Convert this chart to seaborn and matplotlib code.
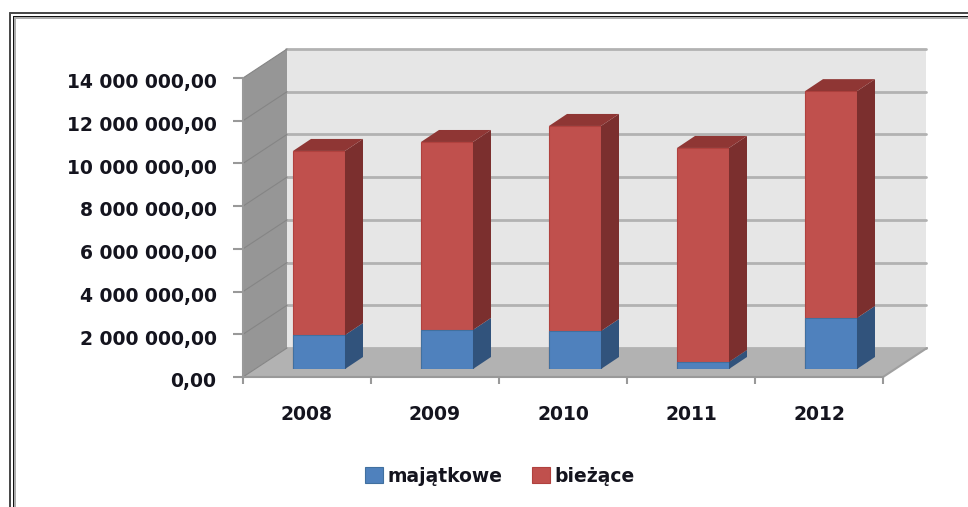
import numpy as np
import matplotlib
matplotlib.use("Agg")
import matplotlib.pyplot as plt
from matplotlib.lines import Line2D
from matplotlib.patches import Polygon
from matplotlib.transforms import ScaledTranslation
import seaborn as sns

# dane
lata = ["2008", "2009", "2010", "2011", "2012"]
majatkowe = [1590000, 1830000, 1780000, 330000, 2390000]
biezace = [8620000, 8800000, 9600000, 10020000, 10620000]
y_ticks = [0, 2000000, 4000000, 6000000, 8000000, 10000000, 12000000, 14000000]
y_labels = ["0,00", "2 000 000,00", "4 000 000,00", "6 000 000,00",
            "8 000 000,00", "10 000 000,00", "12 000 000,00", "14 000 000,00"]

W, H = 968, 507
sns.set_theme(style="white")
plt.rcParams["font.family"] = ["DejaVu Sans"]
TXT = "#14141e"
FS = 13.5

fig = plt.figure(figsize=(W / 100, H / 100), dpi=100, facecolor="white")


def plane(dx, dy):
    # os w pikselach: przod wykresu 243-883, y 377-78, przesuniety o glebokosc
    return fig.add_axes([(243 + dx) / W, (H - 377 + dy) / H, 640 / W, 299 / H])


px_x = 1 / 128
px_y = 14000000 / 299
xlim = (-0.5, len(lata) - 0.5)
ylim = (0, 14000000)

# tylna sciana
ax_wall = plane(43, 29)
ax_wall.set_zorder(0)
ax_wall.set_facecolor("#e6e6e6")
ax_wall.set_xlim(xlim)
ax_wall.set_ylim(ylim)
ax_wall.set_xticks([])
ax_wall.set_yticks(y_ticks)
ax_wall.set_yticklabels([])
ax_wall.tick_params(left=False)
ax_wall.grid(axis="y", color="#b2b2b2", lw=2, clip_on=False)
for s in ax_wall.spines.values():
    s.set_visible(False)

# przednia plaszczyzna: osie, podloga i lewa sciana
ax = plane(0, 0)
ax.set_zorder(1)
ax.patch.set_visible(False)
ax.set_xlim(xlim)
ax.set_ylim(ylim)
dx_wall, dy_wall = 44 * px_x, 29 * px_y
x0, x1 = xlim
ax.add_patch(Polygon([(x0, 0), (x1, 0), (x1 + dx_wall, dy_wall), (x0 + dx_wall, dy_wall)],
                     fc="#b2b2b2", ec="none", clip_on=False))
ax.add_patch(Polygon([(x0, 0), (x0 + dx_wall, dy_wall), (x0 + dx_wall, 14000000 + dy_wall), (x0, 14000000)],
                     fc="#969696", ec="none", clip_on=False))
for v in y_ticks:
    ax.plot([x0, x0 + dx_wall], [v, v + dy_wall], color="#858585", lw=0.8, clip_on=False)
ax.plot([x1, x1 + dx_wall], [0, dy_wall], color="#a0a0a0", lw=1.5, clip_on=False)
ax.set_yticks(y_ticks)
ax.set_yticklabels(y_labels, fontsize=FS, fontweight="bold", color=TXT)
ax.set_xticks(np.arange(len(lata) + 1) - 0.5)
ax.set_xticklabels([])
ax.set_xticks(np.arange(len(lata)), minor=True)
ax.set_xticklabels(lata, minor=True, fontsize=FS, fontweight="bold", color=TXT)
ax.tick_params(axis="x", which="major", length=5, width=1.5, color="#999999", bottom=True)
ax.tick_params(axis="y", which="major", length=7, width=1.5, color="#999999", left=True, pad=12)
ax.tick_params(axis="x", which="minor", length=0, pad=20)
# etykiety osi y leza troche nizej niz kreski
przesun = ScaledTranslation(0, -2 / 72, fig.dpi_scale_trans)
for t in ax.get_yticklabels():
    t.set_transform(t.get_transform() + przesun)
for side in ["top", "right"]:
    ax.spines[side].set_visible(False)
for side in ["left", "bottom"]:
    ax.spines[side].set_color("#999999")
    ax.spines[side].set_linewidth(1.5)

# slupki
ax_bar = plane(12, 8)
ax_bar.set_zorder(2)
ax_bar.patch.set_visible(False)
suma = [m + b for m, b in zip(majatkowe, biezace)]
szer = 52 / 128
sns.barplot(x=lata, y=suma, order=lata, color="#c0504d", saturation=1, width=szer,
            edgecolor="#b0413e", linewidth=0.8, label="bieżące", ax=ax_bar)
sns.barplot(x=lata, y=majatkowe, order=lata, color="#4f81bd", saturation=1, width=szer,
            edgecolor="#41709f", linewidth=0.8, label="majątkowe", ax=ax_bar)
ddx, ddy = 18 * px_x, 12 * px_y
for i, (m, s) in enumerate(zip(majatkowe, suma)):
    r = i + szer / 2
    l = i - szer / 2
    ax_bar.add_patch(Polygon([(r, 0), (r + ddx, ddy), (r + ddx, m + ddy), (r, m)],
                             fc="#31537c", ec="none", clip_on=False))
    ax_bar.add_patch(Polygon([(r, m), (r + ddx, m + ddy), (r + ddx, s + ddy), (r, s)],
                             fc="#7b2f2e", ec="none", clip_on=False))
    ax_bar.add_patch(Polygon([(l, s), (r, s), (r + ddx, s + ddy), (l + ddx, s + ddy)],
                             fc="#8f3634", ec="none", clip_on=False))
ax_bar.set_xlim(xlim)
ax_bar.set_ylim(ylim)
h, lab = ax_bar.get_legend_handles_labels()
if ax_bar.get_legend():
    ax_bar.get_legend().remove()
ax_bar.axis("off")

leg = fig.legend(h[::-1], lab[::-1], ncols=2, frameon=False, loc="center",
                 bbox_to_anchor=(500 / W, (H - 476) / H), handlelength=0.95, handleheight=0.95,
                 handletextpad=0.25, columnspacing=1.6, prop={"size": FS, "weight": "bold"})
for t in leg.get_texts():
    t.set_color(TXT)

# ramka okna (tylko gora i lewa strona)
for pos, kolor, lw in [(13.3, "#4a4a4a", 2), (16, "#111111", 1), (18.3, "#adadad", 2)]:
    fig.add_artist(Line2D([(pos - 3) / W, 1], [(H - pos) / H] * 2, color=kolor, lw=lw * 0.72))
    fig.add_artist(Line2D([(pos - 3) / W] * 2, [0, (H - pos) / H], color=kolor, lw=lw * 0.72))

fig.savefig("out.png", dpi=100)
